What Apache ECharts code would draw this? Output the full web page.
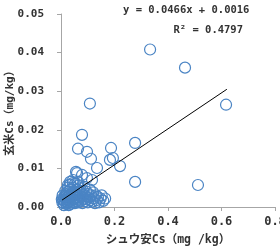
<!DOCTYPE html>
<html>
<head>
<meta charset="utf-8">
<script src="https://cdn.jsdelivr.net/npm/echarts@6/dist/echarts.min.js"></script>
<style>
  html, body { margin: 0; padding: 0; background: #fff; }
  #main { width: 280px; height: 250px; }
</style>
</head>
<body>
<div id="main"></div>
<script>
// 点データ (シュウ安Cs, 玄米Cs)
var xValues = [0.0785, 0.0636, 0.0972, 0.112, 0.1346, 0.187, 0.183, 0.194, 0.2206, 0.277,
  0.277, 0.108, 0.333, 0.4636, 0.617, 0.512, 0.060, 0.0785, 0.045, 0.0636,
  0.097, 0.116, 0.034, 0.026, 0.056,
  0.005, 0.008, 0.010, 0.012, 0.014, 0.015, 0.018, 0.020, 0.020, 0.022,
  0.024, 0.025, 0.027, 0.028, 0.030, 0.032, 0.033, 0.035, 0.036, 0.038,
  0.040, 0.041, 0.043, 0.045, 0.046, 0.048, 0.050, 0.052, 0.054, 0.055,
  0.057, 0.058, 0.060, 0.062, 0.064, 0.065, 0.067, 0.068, 0.070, 0.072,
  0.074, 0.075, 0.078, 0.080, 0.082, 0.084, 0.086, 0.088, 0.090, 0.092,
  0.095, 0.097, 0.100, 0.102, 0.105, 0.108, 0.110, 0.113, 0.116, 0.120,
  0.123, 0.127, 0.130, 0.134, 0.138, 0.142, 0.148, 0.152, 0.158, 0.165,
  0.006, 0.016, 0.026, 0.034, 0.044, 0.052, 0.003, 0.011, 0.019, 0.029]
var yValues = [0.0187, 0.0151, 0.0143, 0.0125, 0.0101, 0.0153, 0.0122, 0.0127, 0.0106, 0.0166,
  0.0065, 0.0268, 0.0408, 0.0361, 0.0265, 0.0057, 0.0088, 0.0083, 0.0070, 0.0065,
  0.0075, 0.0070, 0.0065, 0.0057, 0.0091,
  0.0012, 0.0018, 0.0010, 0.0025, 0.0015, 0.0030, 0.0020, 0.0008, 0.0035, 0.0012,
  0.0026, 0.0018, 0.0040, 0.0010, 0.0022, 0.0030, 0.0015, 0.0045, 0.0008, 0.0025,
  0.0035, 0.0018, 0.0012, 0.0028, 0.0050, 0.0020, 0.0038, 0.0010, 0.0030, 0.0022,
  0.0045, 0.0015, 0.0033, 0.0025, 0.0055, 0.0012, 0.0040, 0.0020, 0.0030, 0.0048,
  0.0016, 0.0036, 0.0026, 0.0010, 0.0042, 0.0020, 0.0032, 0.0052, 0.0015, 0.0028,
  0.0040, 0.0020, 0.0012, 0.0034, 0.0025, 0.0045, 0.0018, 0.0030, 0.0014, 0.0038,
  0.0022, 0.0010, 0.0030, 0.0018, 0.0026, 0.0012, 0.0022, 0.0030, 0.0016, 0.0022,
  0.0030, 0.0042, 0.0050, 0.0058, 0.0062, 0.0060, 0.0020, 0.0005, 0.0028, 0.0005]

// 近似直線の端点
var lineX = [0.004, 0.62]
var lineY = [0.0018, 0.0305]

var eqText = 'y = 0.0466x + 0.0016'
var r2Text = 'R² = 0.4797'

var font = '"DejaVu Sans Mono", "Noto Sans CJK JP", monospace'

var points = xValues.map(function(x, i) { return [x, yValues[i]] })
var line = lineX.map(function(x, i) { return [x, lineY[i]] })

var myChart = echarts.init(document.getElementById('main'))

var option = {
  animation: false,
  grid: { left: 61, right: 5, top: 14, bottom: 43, outerBoundsMode: 'none' },
  xAxis: {
    type: 'value',
    min: 0, max: 0.8, interval: 0.2,
    name: 'シュウ安Cs（mg /kg）',
    nameLocation: 'middle',
    nameGap: 27,
    nameMoveOverlap: false,
    nameTextStyle: { fontFamily: font, fontSize: 11.5, fontWeight: 'bold', color: '#333' },
    splitLine: { show: false },
    axisLine: { lineStyle: { color: '#a6a6a6' } },
    axisTick: { inside: false, length: 4, lineStyle: { color: '#a6a6a6' } },
    axisLabel: {
      margin: 9, fontFamily: font, fontSize: 12, fontWeight: 'bold', color: '#333',
      formatter: function(v) { return v.toFixed(1) }
    }
  },
  yAxis: {
    type: 'value',
    min: 0, max: 0.05, interval: 0.01,
    name: '玄米Cs（mg/kg）',
    nameLocation: 'middle',
    nameRotate: 90,
    nameGap: 45,
    nameMoveOverlap: false,
    nameTextStyle: { fontFamily: font, fontSize: 11, fontWeight: 'bold', color: '#333' },
    splitLine: { show: false },
    axisLine: { show: true, lineStyle: { color: '#a6a6a6' } },
    axisTick: { show: true, length: 4, lineStyle: { color: '#a6a6a6' } },
    axisLabel: {
      margin: 17, fontFamily: font, fontSize: 11, fontWeight: 'bold', color: '#333',
      formatter: function(v) { return v.toFixed(2) }
    }
  },
  series: [{
    type: 'scatter',
    data: points,
    symbol: 'circle',
    symbolSize: 11,
    itemStyle: { color: 'rgba(255,255,255,0)', borderColor: '#4a84c4', borderWidth: 1.2, opacity: 1 }
  }, {
    type: 'line',
    data: line,
    symbol: 'none',
    lineStyle: { color: '#000', width: 1 },
    z: 3
  }],
  graphic: [{
    type: 'text',
    left: 123, top: 5,
    style: { text: eqText, font: 'bold 10.5px ' + font, fill: '#333' }
  }, {
    type: 'text',
    right: 37, top: 25,
    style: { text: r2Text, font: 'bold 10.5px ' + font, fill: '#333' }
  }]
}

myChart.setOption(option)
</script>
</body>
</html>
